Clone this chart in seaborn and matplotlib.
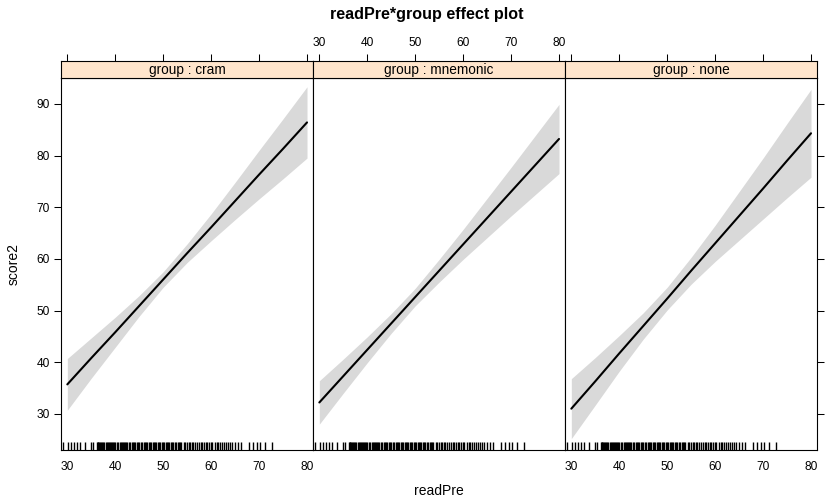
import numpy as np
import pandas as pd
import matplotlib
matplotlib.use("Agg")
import matplotlib.pyplot as plt
import seaborn as sns

# ---------------- data ----------------
groups = ["cram", "mnemonic", "none"]
x_grid = [30, 35, 40, 45, 50, 55, 60, 65, 70, 75, 80]

fit_cram = [35.7, 40.8, 45.8, 50.9, 56.0, 61.1, 66.1, 71.2, 76.3, 81.3, 86.4]
hw_cram = [5.0, 3.9, 2.9, 2.0, 1.5, 1.8, 2.6, 3.6, 4.7, 5.8, 6.9]

fit_mnemonic = [32.2, 37.3, 42.4, 47.5, 52.6, 57.7, 62.8, 67.9, 73.0, 78.1, 83.2]
hw_mnemonic = [4.2, 3.3, 2.5, 1.9, 1.7, 2.2, 2.9, 3.8, 4.7, 5.7, 6.7]

fit_none = [31.0, 36.3, 41.7, 47.0, 52.3, 57.7, 63.0, 68.3, 73.6, 79.0, 84.3]
hw_none = [5.8, 4.6, 3.45, 2.55, 2.2, 2.6, 3.5, 4.7, 5.9, 7.2, 8.5]

rug_readPre = [29.0, 30.2, 30.8, 31.4, 32.0, 32.6, 33.6, 34.9, 35.4, 36.1, 36.3,
               36.4, 36.6, 36.8, 37.0, 37.3, 37.5, 37.7, 38.0, 38.2, 38.4, 38.6,
               38.9, 39.1, 39.4, 39.6, 39.8, 40.0, 40.3, 40.6, 40.9, 41.1, 41.4,
               41.6, 41.8, 42.0, 42.3, 42.5, 42.8, 43.1, 43.4, 43.6, 43.9, 44.2,
               44.5, 44.8, 45.0, 45.3, 45.6, 45.9, 46.1, 46.4, 46.7, 47.0, 47.2,
               47.5, 47.8, 48.0, 48.3, 48.6, 48.9, 49.1, 49.4, 49.7, 50.0, 50.2,
               50.5, 50.8, 51.0, 51.3, 51.6, 51.9, 52.1, 52.4, 52.7, 53.0, 53.2,
               53.5, 53.8, 54.3, 54.6, 54.9, 55.3, 55.6, 56.0, 56.3, 56.7, 57.0,
               57.4, 57.8, 58.1, 58.5, 58.9, 59.2, 59.6, 60.0, 60.2, 60.8, 61.2,
               61.5, 61.9, 62.3, 62.6, 63.0, 63.5, 64.0, 64.4, 65.0, 65.6, 66.3,
               67.8, 68.7, 69.5, 70.1, 71.3, 72.7]

x_ticks = [30, 40, 50, 60, 70, 80]
y_ticks = [30, 40, 50, 60, 70, 80, 90]

fits = {"cram": fit_cram, "mnemonic": fit_mnemonic, "none": fit_none}
hws = {"cram": hw_cram, "mnemonic": hw_mnemonic, "none": hw_none}

rows = []
for g in groups:
    for x, f, h in zip(x_grid, fits[g], hws[g]):
        rows.append({"group": g, "readPre": x, "score2": f,
                     "lower": f - h, "upper": f + h})
df = pd.DataFrame(rows)

# ---------------- style ----------------
sns.set_theme(style="white")
plt.rcParams["font.family"] = ["Liberation Sans", "DejaVu Sans"]

W, H = 827, 498
fig = plt.figure(figsize=(W / 100, H / 100), dpi=100)

xlim = (28.68, 81.25)
ylim = (23.0, 95.0)
panel_left = [61, 313, 565]
panel_w = 252
plot_top, plot_bot = 78, 450
strip_top = 61

band_color = "#D9D9D9"
strip_color = "#FFE5CC"
tick_fs = 8.6

for i, g in enumerate(groups):
    x0 = panel_left[i] / W
    ax = fig.add_axes([x0, 1 - plot_bot / H, panel_w / W, (plot_bot - plot_top) / H])
    sub = df[df["group"] == g]
    ax.fill_between(sub["readPre"], sub["lower"], sub["upper"],
                    color=band_color, linewidth=0, zorder=1)
    sns.lineplot(data=sub, x="readPre", y="score2", ax=ax, color="black",
                 linewidth=1.5, zorder=3, legend=False)
    sns.rugplot(x=rug_readPre, ax=ax, height=0.022, color="black",
                linewidth=1.0, clip_on=True)
    ax.set_xlim(*xlim)
    ax.set_ylim(*ylim)
    ax.set_xlabel("")
    ax.set_ylabel("")
    ax.set_facecolor("white")
    for s in ax.spines.values():
        s.set_color("black")
        s.set_linewidth(0.8)

    ax.set_xticks(x_ticks)
    ax.tick_params(axis="x", direction="out", length=5, width=0.75,
                   color="black", labelsize=tick_fs, pad=3, labelcolor="black")
    if i == 1:
        ax.set_xticklabels([])
    else:
        ax.set_xticklabels([str(t) for t in x_ticks])

    ax.set_yticks(y_ticks)
    if i == 0:
        ax.tick_params(axis="y", direction="out", length=5, width=0.75,
                       color="black", labelsize=tick_fs, pad=3, labelcolor="black",
                       left=True, right=False)
        ax.set_yticklabels([str(t) for t in y_ticks])
    elif i == 2:
        ax.yaxis.tick_right()
        ax.tick_params(axis="y", direction="out", length=5, width=0.75,
                       color="black", labelright=False, right=True, left=False)
    else:
        ax.tick_params(axis="y", left=False, right=False, labelleft=False)

    # strip
    sax = fig.add_axes([x0, 1 - plot_top / H, panel_w / W, (plot_top - strip_top) / H])
    sax.set_facecolor(strip_color)
    sax.set_xlim(*xlim)
    sax.set_ylim(0, 1)
    sax.set_yticks([])
    sax.xaxis.tick_top()
    sax.set_xticks(x_ticks)
    sax.tick_params(axis="x", direction="out", length=5, width=0.75,
                    color="black", labelsize=tick_fs, pad=4, labelcolor="black")
    if i == 1:
        sax.set_xticklabels([str(t) for t in x_ticks])
    else:
        sax.set_xticklabels([])
    for s in sax.spines.values():
        s.set_color("black")
        s.set_linewidth(0.8)
    sax.text(0.5, 0.45, f"group : {g}", transform=sax.transAxes,
             ha="center", va="center", fontsize=9.8, color="black")

fig.text(426.5 / W, 1 - 14 / H, "readPre*group effect plot", ha="center",
         va="center", fontsize=11.6, fontweight="bold", color="black")
fig.text(14 / W, 1 - 264 / H, "score2", rotation=90, ha="center", va="center",
         fontsize=10, color="black")
fig.text(439 / W, 1 - 491 / H, "readPre", ha="center", va="center",
         fontsize=10, color="black")

fig.savefig("out.png", dpi=100)
